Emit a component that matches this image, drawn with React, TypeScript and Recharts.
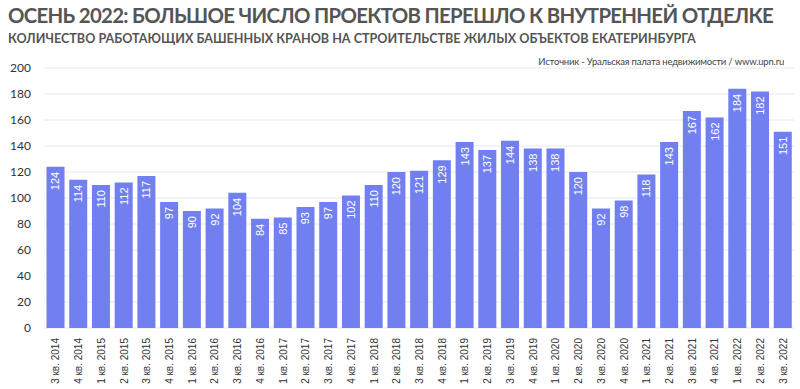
import { BarChart, Bar, XAxis, YAxis, CartesianGrid, LabelList } from 'recharts'

const QUARTERS = [
  '3 кв. 2014', '4 кв. 2014',
  '1 кв. 2015', '2 кв. 2015', '3 кв. 2015', '4 кв. 2015',
  '1 кв. 2016', '2 кв. 2016', '3 кв. 2016', '4 кв. 2016',
  '1 кв. 2017', '2 кв. 2017', '3 кв. 2017', '4 кв. 2017',
  '1 кв. 2018', '2 кв. 2018', '3 кв. 2018', '4 кв. 2018',
  '1 кв. 2019', '2 кв. 2019', '3 кв. 2019', '4 кв. 2019',
  '1 кв. 2020', '2 кв. 2020', '3 кв. 2020', '4 кв. 2020',
  '1 кв. 2021', '2 кв. 2021', '3 кв. 2021', '4 кв. 2021',
  '1 кв. 2022', '2 кв. 2022', '3 кв. 2022',
]

const CRANES = [
  124, 114, 110, 112, 117, 97, 90, 92, 104, 84, 85, 93, 97, 102, 110, 120, 121,
  129, 143, 137, 144, 138, 138, 120, 92, 98, 118, 143, 167, 162, 184, 182, 151,
]

const Y_TICKS = [0, 20, 40, 60, 80, 100, 120, 140, 160, 180, 200]

const data = QUARTERS.map((q, i) => ({ quarter: q, cranes: CRANES[i] }))

const FONT = 'Lato, "Open Sans", sans-serif'
const ARIAL = '"Liberation Sans", Arial, sans-serif'

const XTick = (props: any) => {
  const { x, y, payload } = props
  return (
    <text
      x={x}
      y={y}
      transform={`rotate(-90 ${x} ${y})`}
      dx={-2}
      dy={4}
      textAnchor="end"
      fontSize={10}
      fill="#333"
      fontFamily={ARIAL}
    >
      {payload.value}
    </text>
  )
}

const BarValue = (props: any) => {
  const { x, y, width, value } = props
  const cx = x + width / 2
  const ty = y + 5
  return (
    <text
      x={cx}
      y={ty}
      transform={`rotate(-90 ${cx} ${ty})`}
      dy={4}
      textAnchor="end"
      fontSize={11}
      fill="#fff"
      fontFamily={ARIAL}
    >
      {value}
    </text>
  )
}

export default function App() {
  return (
    <div style={{ position: 'absolute', left: 0, top: 0, width: 800, height: 389, background: '#fff', fontFamily: FONT }}>
      <div style={{ position: 'absolute', left: 8, top: 3, fontSize: 20.4, letterSpacing: -0.7, fontWeight: 700, color: '#555', whiteSpace: 'nowrap', lineHeight: '24px' }}>
        ОСЕНЬ 2022: БОЛЬШОЕ ЧИСЛО ПРОЕКТОВ ПЕРЕШЛО К ВНУТРЕННЕЙ ОТДЕЛКЕ
      </div>
      <div style={{ position: 'absolute', left: 8, top: 31, fontSize: 12.6, fontWeight: 700, color: '#555', whiteSpace: 'nowrap', lineHeight: '16px' }}>
        КОЛИЧЕСТВО РАБОТАЮЩИХ БАШЕННЫХ КРАНОВ НА СТРОИТЕЛЬСТВЕ ЖИЛЫХ ОБЪЕКТОВ ЕКАТЕРИНБУРГА
      </div>
      <div style={{ position: 'absolute', right: 16, top: 55, fontSize: 9.5, letterSpacing: -0.2, color: '#444', whiteSpace: 'nowrap', lineHeight: '14px' }}>
        Источник - Уральская палата недвижимости / www.upn.ru
      </div>
      <BarChart
        width={800}
        height={389}
        data={data}
        margin={{ top: 68, right: 6, left: 0, bottom: 0 }}
        barCategoryGap="11%"
      >
        <CartesianGrid vertical={false} stroke="#e8e8e8" />
        <XAxis
          dataKey="quarter"
          interval={0}
          height={61}
          tick={<XTick />}
          tickLine={false}
          axisLine={false}
        />
        <YAxis
          width={44}
          domain={[0, 200]}
          ticks={Y_TICKS}
          tickLine={false}
          axisLine={false}
          tick={{ fontSize: 12, fill: '#333', fontFamily: FONT }}
          tickMargin={7}
        />
        <Bar dataKey="cranes" fill="#717ff0" isAnimationActive={false}>
          <LabelList dataKey="cranes" content={<BarValue />} />
        </Bar>
      </BarChart>
    </div>
  )
}
